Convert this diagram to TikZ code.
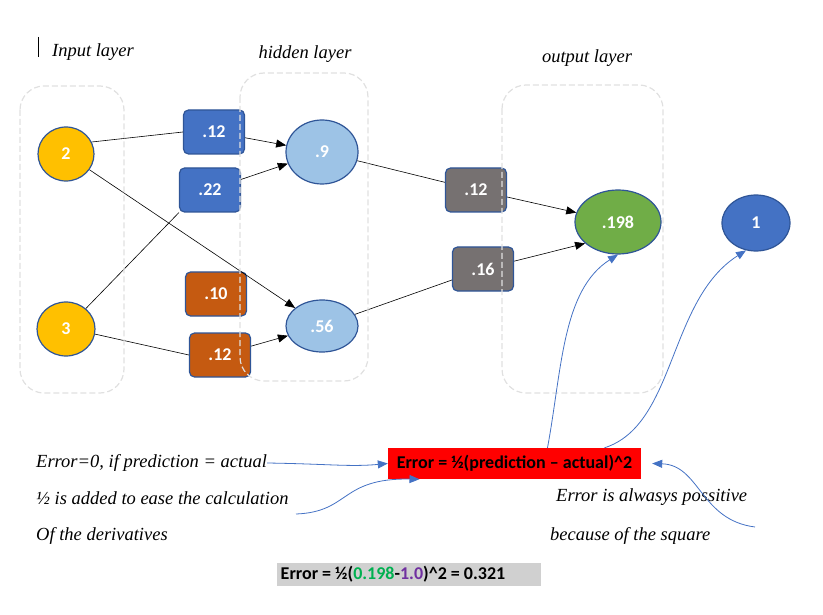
\documentclass[tikz,border=0pt]{standalone}
\usepackage{fontspec}
\setmainfont{Carlito}
\newfontfamily\handfont{Liberation Serif}
\usetikzlibrary{arrows.meta,shapes.geometric}
\definecolor{nodeborder}{HTML}{2F5597}
\definecolor{inputfill}{HTML}{FFC000}
\definecolor{hiddenfill}{HTML}{9DC3E6}
\definecolor{outputfill}{HTML}{70AD47}
\definecolor{targetfill}{HTML}{4472C4}
\definecolor{orangefill}{HTML}{C55A11}
\definecolor{grayfill}{HTML}{767171}
\definecolor{framegray}{HTML}{E0E0E0}
\definecolor{resultgray}{HTML}{D0D0D0}
\definecolor{predgreen}{HTML}{00B050}
\definecolor{actpurple}{HTML}{7030A0}
\definecolor{notearrowblue}{HTML}{4472C4}
\tikzset{
  neuron/.style={draw=nodeborder, line width=1.2pt, ellipse, inner sep=0pt, text=white, font=\fontsize{18}{20}\selectfont\bfseries},
  weightblock/.style={draw=nodeborder, line width=1.2pt, rounded corners=5pt, minimum width=61pt, minimum height=44pt, text=white, font=\fontsize{18}{20}\selectfont\bfseries},
  layerframe/.style={draw=framegray, line width=1.2pt, rounded corners=24pt, dash pattern=on 6pt off 3pt},
  layerlabel/.style={font=\handfont\itshape\fontsize{18.5}{20}\selectfont},
  notetext/.style={anchor=west, inner sep=0pt, font=\handfont\itshape\fontsize{18.5}{20}\selectfont},
  formulabox/.style={inner sep=0pt, font=\fontsize{18}{20}\selectfont\bfseries},
  arrow/.style={-{Triangle[length=10pt,width=8pt]}, line width=0.6pt},
  notearrow/.style={-{Triangle[length=10pt,width=8pt]}, draw=notearrowblue, line width=0.8pt}
}

\begin{document}
\begin{tikzpicture}[x=1pt, y=-1pt]
    \useasboundingbox (0,0) rectangle (823,615);

    % layer titles
    \draw (38,37) -- (38,57);
    \node[layerlabel] (inlabel) at (93,52) {Input layer};
    \node[layerlabel] (hidlabel) at (305,54) {hidden layer};
    \node[layerlabel] (outlabel) at (587,58) {output layer};

    % neurons
    \node[neuron, fill=inputfill, minimum width=56pt, minimum height=54pt] (in2) at (66,154) {2};
    \node[neuron, fill=inputfill, minimum width=58pt, minimum height=54pt] (in3) at (66,329) {3};
    \node[neuron, fill=hiddenfill, minimum width=72pt, minimum height=64pt] (h9) at (322,152) {.9};
    \node[neuron, fill=hiddenfill, minimum width=72pt, minimum height=52pt] (h56) at (322,326) {.56};
    \node[neuron, fill=outputfill, minimum width=86pt, minimum height=64pt] (out) at (618,222) {.198};
    \node[neuron, fill=targetfill, minimum width=68pt, minimum height=56pt] (target) at (756,223) {1};

    % weights
    \node[weightblock, fill=targetfill] (w1) at (214,132) {.12};
    \node[weightblock, fill=targetfill] (w2) at (210,190) {.22};
    \node[weightblock, fill=orangefill] (w3) at (216,294) {.10};
    \node[weightblock, fill=orangefill] (w4) at (220,355) {.12};
    \node[weightblock, fill=grayfill] (w5) at (476,190) {.12};
    \node[weightblock, fill=grayfill] (w6) at (483,269) {.16};

    \draw[line width=0.6pt] (in2.25) -- (w1.west);
    \draw[arrow] (w1) -- (h9);
    \draw[line width=0.6pt] (in3) -- (w2.south west);
    \draw[arrow] (w2) -- (h9);
    \draw[arrow] (in2) -- (h56);
    \draw[line width=0.6pt] (in3.-10) -- (w4.west);
    \draw[arrow] (w4) -- (h56);
    \draw[line width=0.6pt] (h9) -- (w5);
    \draw[arrow] (w5) -- (out);
    \draw[line width=0.6pt] (h56) -- (w6);
    \draw[arrow] (w6) -- (out.213);

    % layer frames
    \draw[layerframe] (20,86) rectangle (124,393);
    \draw[layerframe] (240,73) rectangle (368,381);
    \draw[layerframe] (502,85) rectangle (663,393);

    % error formula and notes
    \node[formulabox, fill=red, minimum width=253pt, minimum height=31pt] (err) at (514.5,463.5) {Error = ½(prediction – actual)\textasciicircum{}2};
    \node[formulabox, fill=resultgray, minimum width=264pt, minimum height=23pt] (result) at (409,574.5)
      {Error = ½(\textcolor{predgreen}{0.198}-\textcolor{actpurple}{1.0})\textasciicircum{}2 = 0.321\hspace*{32pt}};

    \node[notetext] (t1) at (36,463) {Error=0, if prediction = actual};
    \node[notetext] (t2) at (36,498) {½ is added to ease the calculation};
    \node[notetext] (t3) at (36,536) {Of the derivatives};
    \node[notetext] (t4) at (556,497) {Error is alwasys possitive};
    \node[notetext] (t5) at (550,536) {because of the square};

    \coordinate (c2) at (296,514);
    \coordinate (c4) at (755,527);

    \draw[notearrow] ([xshift=33pt]err.north) .. controls (562,370) and (562,290) .. (out.south);
    \draw[notearrow] ([xshift=90pt]err.north) .. controls (676,425) and (668,300) .. (target.250);
    \draw[notearrow] (t1.east) .. controls (330,464) and (350,467) .. (err.west);
    \draw[notearrow] (c2) .. controls (350,512) and (340,478) .. ([xshift=-95pt]err.south);
    \draw[notearrow] (c4) .. controls (700,520) and (700,465) .. ([xshift=11pt]err.east);
  \end{tikzpicture}
\end{document}
